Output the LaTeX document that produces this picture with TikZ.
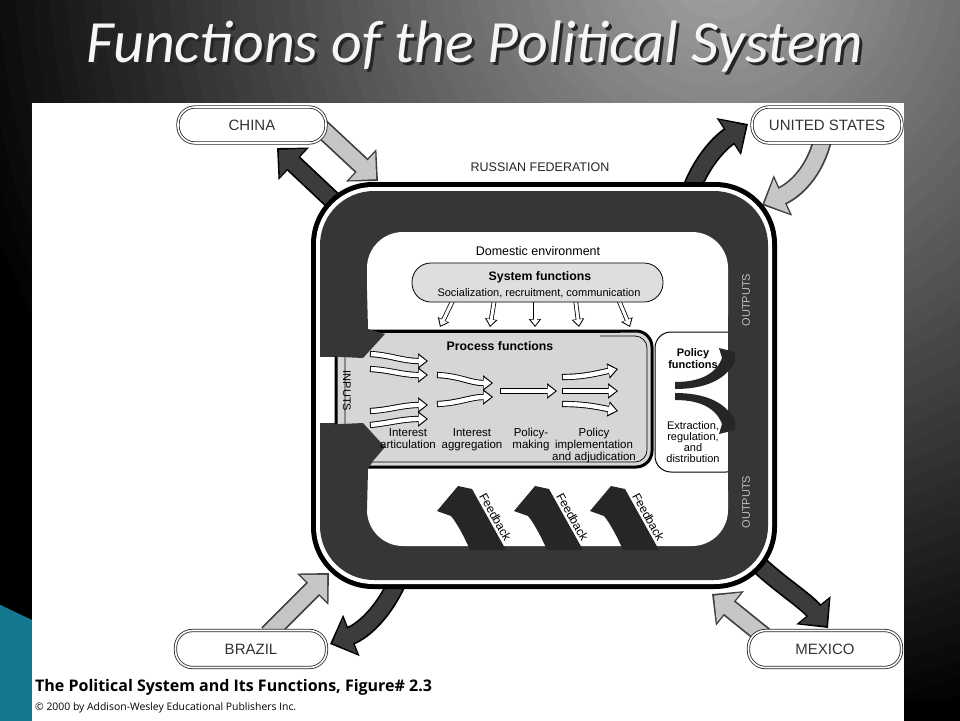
\documentclass[tikz,border=0pt]{standalone}
\usepackage{fontspec}
\setmainfont{Liberation Sans}
\newfontfamily\titlefont{Carlito}
\newfontfamily\capfont{Open Sans}
\usetikzlibrary{arrows.meta}
\definecolor{band}{HTML}{363636}
\definecolor{fbk}{HTML}{262626}
\definecolor{pgray}{HTML}{D6D6D6}
\definecolor{sgray}{HTML}{DEDEDE}
\definecolor{lightarr}{HTML}{C6C6C6}
\definecolor{darkarr}{HTML}{3C3C3C}
\definecolor{teal1}{HTML}{14798F}
\definecolor{bglight}{HTML}{A6A6A6}
\newcommand\harrow[2]{\draw[#1A] #2; \draw[#1B] #2;}
\begin{document}
\begin{tikzpicture}[x=1pt,y=-1pt,
  titlestyle/.style={font=\titlefont\itshape\fontsize{60}{62}\selectfont, inner sep=0pt},
  pill/.style={draw=black!85, line width=0.8pt, double=white, double distance=1.6pt, fill=white, rounded corners=17pt, inner sep=0pt, font=\fontsize{15}{16}\selectfont, text=black!80},
  lbl/.style={font=\fontsize{11.5}{12}\selectfont, align=center, inner sep=0pt},
  blbl/.style={font=\bfseries\fontsize{12.3}{13}\selectfont, inner sep=0pt},
  fbtext/.style={font=\fontsize{12}{13}\selectfont, inner sep=0pt},
  midA/.style={line width=6.2pt, draw=black, -{Triangle[length=10pt,width=15pt]}},
  midB/.style={line width=4.4pt, draw=white, shorten >=1.7pt, shorten <=0.9pt, -{Triangle[length=7.8pt,width=11.2pt]}},
  smA/.style={line width=4.6pt, draw=black, -{Triangle[length=8pt,width=12pt]}},
  smB/.style={line width=3pt, draw=white, shorten >=1.5pt, shorten <=0.8pt, -{Triangle[length=6pt,width=8.6pt]}},
  bigLA/.style={line width=19pt, draw=black!75, -{Triangle[length=23pt,width=43pt]}},
  bigLB/.style={line width=15.5pt, draw=lightarr, shorten >=2.6pt, -{Triangle[length=19pt,width=37pt]}},
  bigDA/.style={line width=19pt, draw=black, -{Triangle[length=23pt,width=43pt]}},
  bigDB/.style={line width=15.5pt, draw=darkarr, shorten >=2.6pt, -{Triangle[length=19pt,width=37pt]}}
]
\useasboundingbox (0,0) rectangle (960,720);
% slide background: stepped radial gradient
\fill[black] (-10,-10) rectangle (970,730);
\begin{scope}
  \clip (-10,-10) rectangle (970,700);
  \foreach \i in {0,...,44}{
    \pgfmathsetmacro\rr{790-17*\i}
    \pgfmathsetmacro\pp{100*(1-\rr/790)}
    \fill[bglight!\pp!black] (720,-40) circle[radius=\rr pt];
  }
\end{scope}
\fill[teal1] (-10,600) -- (32,620) -- (32,730) -- (-10,730) -- cycle;
\fill[white] (32,103) rectangle (904,730);

% title
\node[titlestyle, text=black!85] (tshadow) at (478,50) {Functions of the Political System};
\node[titlestyle, text=white!93!gray] (title) at (475,47) {Functions of the Political System};

% international arrows
\harrow{bigL}{(318,125) -- (378,181)}
\harrow{bigD}{(345,212) -- (277,148)}
\harrow{bigD}{(688,200) .. controls (696,170) and (716,145) .. (748,124)}
\harrow{bigL}{(823,138) .. controls (815,172) and (795,190) .. (762,205)}
\harrow{bigL}{(268,634) -- (329,573)}
\harrow{bigD}{(398,580) .. controls (385,610) and (365,630) .. (330,644)}
\harrow{bigL}{(764,636) -- (712,594)}
\harrow{bigD}{(756,562) .. controls (780,585) and (805,600) .. (828,628)}

% country pills
\node[pill, minimum width=148pt, minimum height=36pt] (china) at (252,125) {CHINA};
\node[pill, minimum width=150pt, minimum height=36pt] (us) at (827,125) {UNITED STATES};
\node[pill, minimum width=151pt, minimum height=37pt] (brazil) at (251,649) {BRAZIL};
\node[pill, minimum width=153pt, minimum height=37pt] (mexico) at (825,649) {MEXICO};

\node[font=\fontsize{12.5}{13}\selectfont, text=black!85, inner sep=0pt] (rf) at (540,167) {RUSSIAN FEDERATION};

% frame
\fill[black, rounded corners=62pt] (311,182) rectangle (777,589);
\fill[white, rounded corners=57pt] (316,187) rectangle (772,584);
\fill[band, rounded corners=54pt] (320,191) rectangle (768,580);
\fill[white, rounded corners=36pt] (367,232) rectangle (728,546);

% inputs gap
\fill[white] (316,357) rectangle (336,423);

% system functions
\foreach \a/\b in {{(455,296)}/{(440,327)}, {(495,296)}/{(490,327)}, {(535,296)}/{(535,327)}, {(575,296)}/{(579,327)}, {(617,296)}/{(630,327)}}
  {\harrow{sm}{\a -- \b}}
\filldraw[fill=sgray, draw=black, line width=0.8pt, rounded corners=19pt] (412,263) rectangle (663,302);
\node[font=\fontsize{12.5}{13}\selectfont, inner sep=0pt] (dom) at (538,251) {Domestic environment};
\node[blbl] (sysf) at (540,277) {System functions};
\node[font=\fontsize{11}{12}\selectfont, inner sep=0pt] (soc) at (539,293) {Socialization, recruitment, communication};

% process box
\filldraw[fill=pgray, draw=black, line width=3pt, rounded corners=16pt] (336,331) rectangle (652,467);
\draw[black, line width=0.7pt, rounded corners=12pt] (345,336) rectangle (647,462);
\fill[pgray] (339,334) rectangle (600,340);
\draw[black, line width=3pt] (360,331) -- (620,331);
% band ends (inputs arrows)
\fill[band] (320,290) -- (367,290) -- (368,329) -- (385,334) -- (363,358) -- (320,356) -- cycle;
\fill[band] (320,510) -- (367,510) -- (368,469) -- (373,461) -- (385,447) -- (363,423) -- (320,425) -- cycle;
\node[font=\fontsize{11}{12}\selectfont, inner sep=0pt, rotate=-90] (inputs) at (347,391) {INPUTS};

\node[blbl] (procf) at (500,346) {Process functions};
% process arrows
\harrow{mid}{(370,354) .. controls (390,355) and (402,361) .. (428,361)}
\harrow{mid}{(370,369) .. controls (390,370) and (402,375) .. (428,375)}
\harrow{mid}{(370,411) .. controls (390,410) and (402,405) .. (428,405)}
\harrow{mid}{(370,425) .. controls (390,423) and (402,419) .. (428,419)}
\harrow{mid}{(437,375) .. controls (460,376) and (470,383) .. (493,383)}
\harrow{mid}{(437,404) .. controls (460,403) and (470,397) .. (493,397)}
\harrow{mid}{(500,391) -- (557,391)}
\harrow{mid}{(562,377) .. controls (585,377) and (598,373) .. (618,369)}
\harrow{mid}{(562,391) -- (618,391)}
\harrow{mid}{(562,404) .. controls (585,404) and (598,407) .. (618,411)}

\node[lbl, anchor=north] (ia) at (408,428) {Interest\\articulation};
\node[lbl, anchor=north] (ig) at (472,428) {Interest\\aggregation};
\node[lbl, anchor=north] (pm) at (531,428) {Policy-\\making};
\node[lbl, anchor=north] (pi) at (594,428) {Policy\\implementation\\and adjudication};

% policy functions box
\filldraw[fill=white, draw=black, line width=1pt, rounded corners=16pt] (655,332) rectangle (742,472);
\fill[band] (728,315) rectangle (768,490);
\fill[black!85] (675,382) .. controls (700,382) and (716,374) .. (722,358) -- (719,348) -- (735,352) -- (735,362) .. controls (725,380) and (705,389) .. (675,389) -- cycle;
\fill[black!85] (675,400) .. controls (700,400) and (716,408) .. (722,424) -- (719,434) -- (735,430) -- (735,420) .. controls (725,402) and (705,393) .. (675,393) -- cycle;
\node[font=\bfseries\fontsize{11}{12}\selectfont, align=center, inner sep=0pt] (polf) at (693,359) {Policy\\functions};
\node[font=\fontsize{11}{11}\selectfont, align=center, inner sep=0pt] (extr) at (693,442) {Extraction,\\regulation,\\and\\distribution};

% outputs labels
\node[font=\fontsize{11}{12}\selectfont, inner sep=0pt, rotate=90, text=black!25] (out1) at (746,300) {OUTPUTS};
\node[font=\fontsize{11}{12}\selectfont, inner sep=0pt, rotate=90, text=black!25] (out2) at (746,502) {OUTPUTS};

% feedback arrows
\foreach \dx/\nm in {0/fa,77/fb,153/fc}{
  \fill[fbk] ({470+\dx},550) .. controls ({463+\dx},534) and ({456+\dx},522) .. ({451+\dx},516) -- ({437+\dx},511) -- ({458+\dx},486) -- ({472+\dx},489) -- ({506+\dx},550) -- cycle;
  \node[fbtext, rotate=-61] (\nm) at ({495.5+\dx},517) {Feedback};
}

% caption
\node[anchor=west, font=\capfont\bfseries\fontsize{16}{17}\selectfont, inner sep=0pt] (cap) at (35,687) {The Political System and Its Functions, Figure\# 2.3};
\node[anchor=west, font=\capfont\fontsize{10.4}{12}\selectfont, inner sep=0pt] (copy) at (35,708) {© 2000 by Addison-Wesley Educational Publishers Inc.};
\end{tikzpicture}
\end{document}
